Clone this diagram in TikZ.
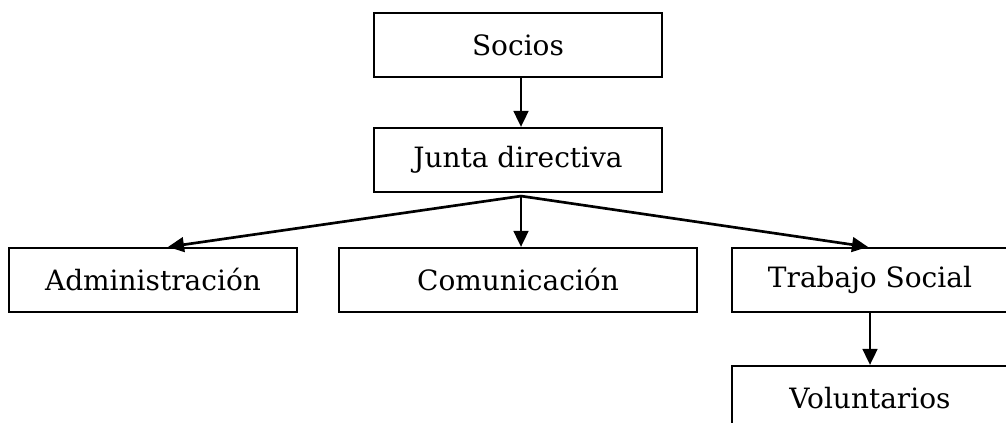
\documentclass[tikz,border=0pt]{standalone}
\usepackage{fontspec}
\setmainfont{DejaVu Serif}
\usetikzlibrary{arrows.meta}
\begin{document}
\begin{tikzpicture}[x=0.75pt, y=-0.75pt,
    caja/.style={draw, line width=1.6pt, minimum height=48pt, inner sep=0pt,
        font=\fontsize{21}{25}\selectfont},
    flecha/.style={-{Triangle[length=12pt,width=11pt]}, line width=2pt}]
            % 固定画布大小
            \useasboundingbox (0,0) rectangle (1006,423);

            % 上面两个方框
            \node[caja, minimum width=216pt] (socios) at (518,45) {Socios};
            \node[caja, minimum width=216pt] (junta) at (518,160) {Junta directiva};

            % 中间一排三个方框
            \node[caja, minimum width=216pt] (admin) at (153,280) {Administración};
            \node[caja, minimum width=268.5pt] (comun) at (518,280) {Comunicación};
            \node[caja, minimum width=207pt] (trabajo) at (870,280) {Trabajo Social};

            % 最下面的方框
            \node[caja, minimum width=207pt] (volun) at (870,398) {Voluntarios};

            % 箭头起点
            \coordinate (rama) at ([xshift=2.25pt, yshift=-2.25pt]junta.south);

            % 绘制箭头
            \draw[flecha] ([xshift=2.25pt]socios.south) -- ([xshift=2.25pt]junta.north);
            \draw[flecha] (rama) -- ([xshift=11.25pt]admin.north);
            \draw[flecha] (rama) -- ([xshift=2.25pt]comun.north);
            \draw[flecha] (rama) -- ([xshift=-1.5pt]trabajo.north);
            \draw[flecha] (trabajo.south) -- (volun.north);
        \end{tikzpicture}
\end{document}
